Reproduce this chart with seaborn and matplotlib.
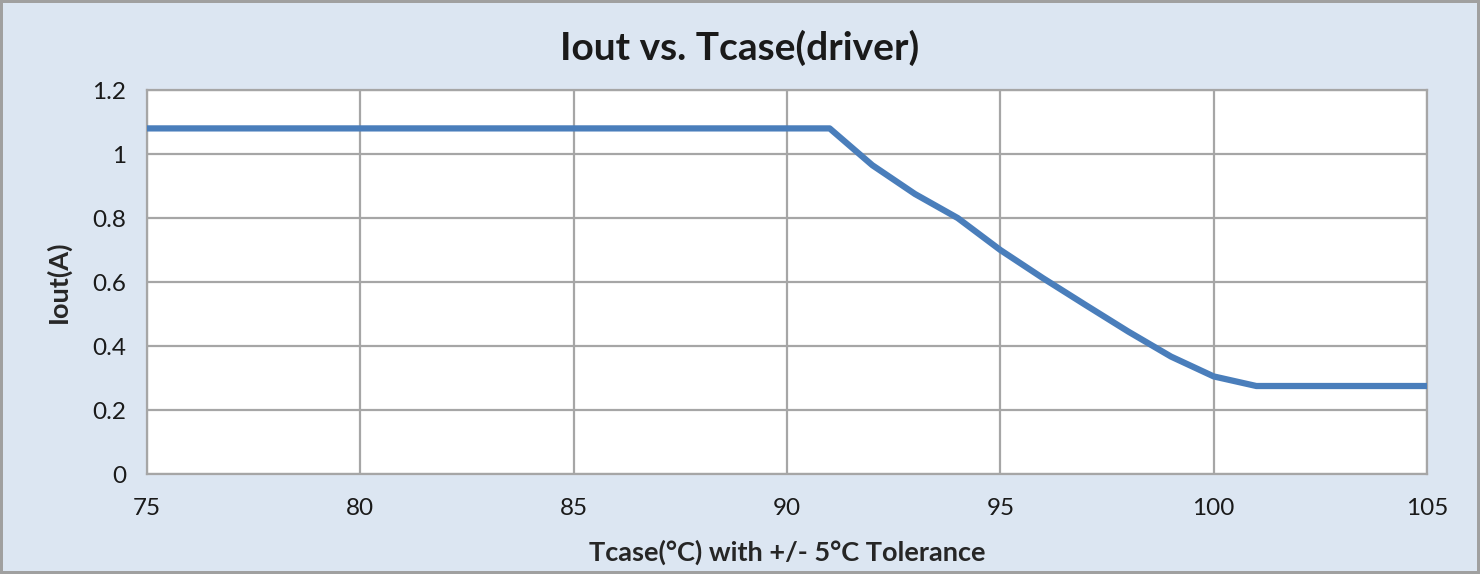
import matplotlib
matplotlib.use("Agg")
import matplotlib.pyplot as plt
import seaborn as sns
import pandas as pd

# Iout derating vs case temperature
tcase = [75, 80, 85, 90, 91, 92, 93, 94, 95, 96, 97, 98, 99, 100, 101, 105]
iout = [1.08, 1.08, 1.08, 1.08, 1.08, 0.965, 0.875, 0.80, 0.70, 0.612, 0.528,
        0.445, 0.367, 0.305, 0.275, 0.275]

x_ticks = [75, 80, 85, 90, 95, 100, 105]
y_ticks = [0, 0.2, 0.4, 0.6, 0.8, 1, 1.2]
y_tick_labels = ["0", "0.2", "0.4", "0.6", "0.8", "1", "1.2"]

df = pd.DataFrame({"Tcase": tcase, "Iout": iout})

sns.set_style("white")
plt.rcParams["font.family"] = ["Lato", "DejaVu Sans"]

grid_col = "#A6A6A6"
fig = plt.figure(figsize=(14.8, 5.74), dpi=100, facecolor="#DCE6F2",
                 edgecolor="#A0A0A0", linewidth=3)
ax = fig.add_axes([0.0993, 0.1742, 0.8649, 0.669])
ax.set_facecolor("white")

sns.lineplot(data=df, x="Tcase", y="Iout", ax=ax, color="#4A7EBB",
             linewidth=4.5, solid_joinstyle="round", zorder=3)

ax.set_xlim(75, 105)
ax.set_ylim(0, 1.2)
ax.set_xticks(x_ticks)
ax.set_xticklabels([str(v) for v in x_ticks])
ax.set_yticks(y_ticks)
ax.set_yticklabels(y_tick_labels)
ax.grid(True, color=grid_col, linewidth=1.6)
ax.set_axisbelow(True)

for side in ["left", "bottom", "right", "top"]:
    ax.spines[side].set_color(grid_col)
    ax.spines[side].set_linewidth(1.6)

ax.tick_params(axis="both", direction="out", length=7, width=1.6,
               color=grid_col, labelsize=17.5, labelcolor="#1a1a1a")
ax.tick_params(axis="x", pad=10)
ax.tick_params(axis="y", pad=8)

ax.set_xlabel("Tcase(°C) with +/- 5°C Tolerance", fontsize=19.5,
              fontweight="bold", labelpad=15)
ax.set_ylabel("Iout(A)", fontsize=19.5, fontweight="bold", labelpad=15)
fig.text(0.5, 0.916, "Iout vs. Tcase(driver)", ha="center", va="center",
         fontsize=28, fontweight="bold", color="#1a1a1a")

fig.savefig("out.png", dpi=100, facecolor=fig.get_facecolor(),
            edgecolor=fig.get_edgecolor())
